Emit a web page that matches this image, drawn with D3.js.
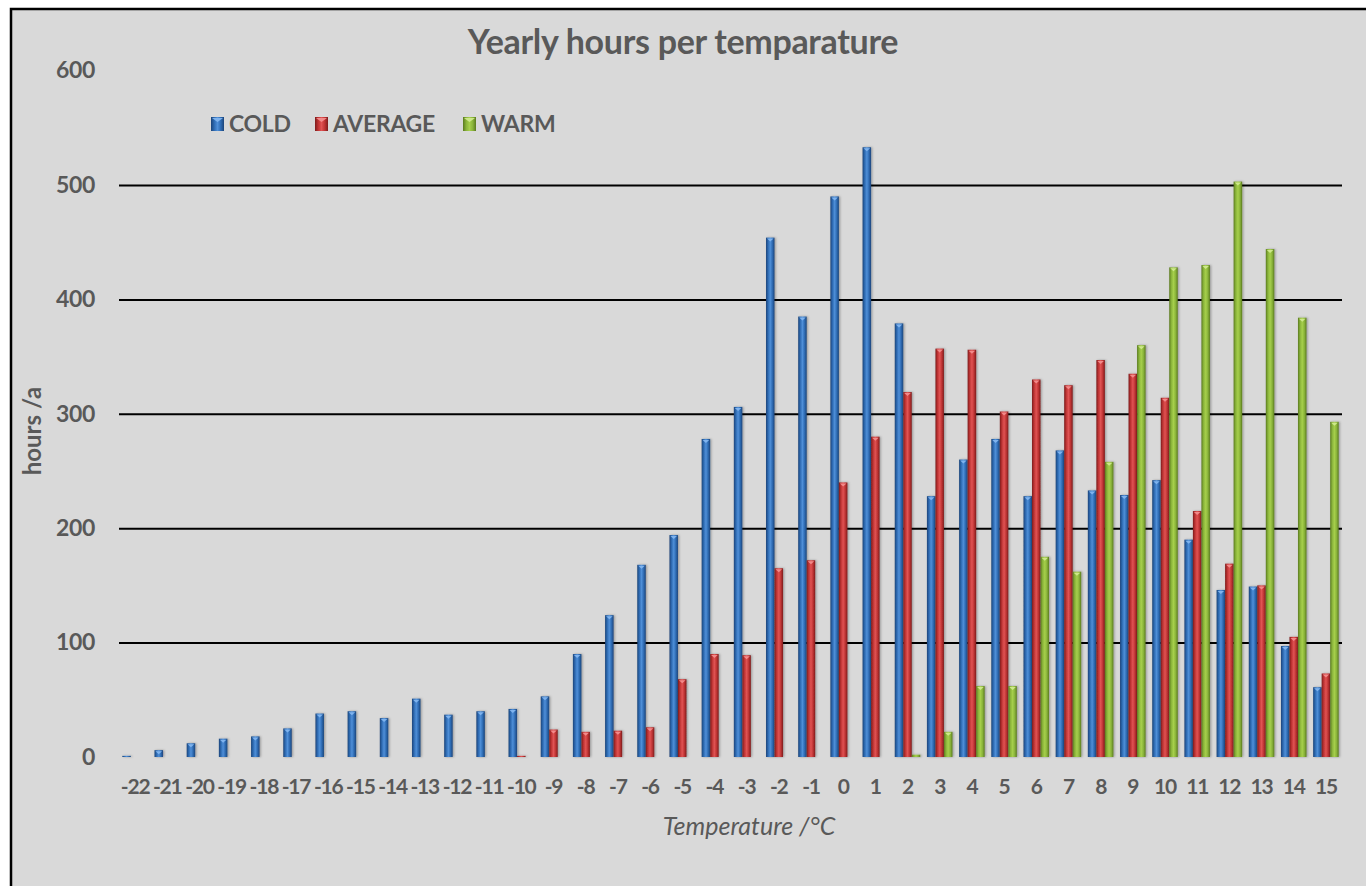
<!DOCTYPE html>
<html>
<head>
<meta charset="utf-8">
<script src="https://cdn.jsdelivr.net/npm/d3@7"></script>
<style>
  html, body { margin: 0; padding: 0; background: #ffffff; }
  svg { display: block; }
  text { font-family: Lato, "Open Sans", "Liberation Sans", sans-serif; }
</style>
</head>
<body>
<svg id="chart" width="1366" height="886"></svg>
<script>
// ---------------- data ----------------
const categories = [-22,-21,-20,-19,-18,-17,-16,-15,-14,-13,-12,-11,-10,-9,-8,-7,-6,-5,-4,-3,-2,-1,0,1,2,3,4,5,6,7,8,9,10,11,12,13,14,15];
const seriesNames = ["COLD", "AVERAGE", "WARM"];
const coldValues = [1,6,12,16,18,25,38,40,34,51,37,40,42,53,90,124,168,194,278,306,454,385,490,533,379,228,260,278,228,268,233,229,242,190,146,149,97,61];
const averageValues = [0,0,0,0,0,0,0,0,0,0,0,0,1,24,22,23,26,68,90,89,165,172,240,280,319,357,356,302,330,325,347,335,314,215,169,150,105,73];
const warmValues = [0,0,0,0,0,0,0,0,0,0,0,0,0,0,0,0,0,0,0,0,0,0,0,0,2,22,62,62,175,162,258,360,428,430,503,444,384,293];
const yTicks = [0,100,200,300,400,500,600];
const gridTicks = [100,200,300,400,500];
const titleText = "Yearly hours per temparature";
const xTitleText = "Temperature /°C";
const yTitleText = "hours /a";

// ---------------- setup ----------------
const svg = d3.select("#chart");
const textColor = "#595959";

svg.append("rect")
  .attr("x", 11).attr("y", 9)
  .attr("width", 1366).attr("height", 900)
  .attr("fill", "#d9d9d9")
  .attr("stroke", "#000").attr("stroke-width", 2.5);

const plot = { left: 119, right: 1342, top: 70.6, bottom: 757 };

const x0 = d3.scaleBand().domain(categories).range([plot.left, plot.right]).paddingInner(0).paddingOuter(0);
const x1 = d3.scaleBand().domain(seriesNames).range([0, x0.bandwidth()]).paddingInner(0).paddingOuter(0.39);
const y = d3.scaleLinear().domain([0, 600]).range([plot.bottom, plot.top]);

const colors = {
  COLD:    { dark: "#1c4479", mid: "#2e6bb3", light: "#4f8fd8", cap: "#7fb3ee" },
  AVERAGE: { dark: "#7c1c1c", mid: "#bf3434", light: "#e05353", cap: "#f28a8a" },
  WARM:    { dark: "#5a7a1f", mid: "#8ab43a", light: "#a6cf4c", cap: "#cde88a" }
};

const defs = svg.append("defs");
seriesNames.forEach(name => {
  const c = colors[name];
  const g = defs.append("linearGradient").attr("id", "grad-" + name)
    .attr("x1", "0%").attr("x2", "100%").attr("y1", "0%").attr("y2", "0%");
  g.append("stop").attr("offset", "0%").attr("stop-color", c.dark);
  g.append("stop").attr("offset", "25%").attr("stop-color", c.mid);
  g.append("stop").attr("offset", "50%").attr("stop-color", c.light);
  g.append("stop").attr("offset", "75%").attr("stop-color", c.mid);
  g.append("stop").attr("offset", "100%").attr("stop-color", c.dark);
});
const shadow = defs.append("filter").attr("id", "shadow").attr("x", "-50%").attr("y", "-5%").attr("width", "200%").attr("height", "110%");
shadow.append("feDropShadow").attr("dx", 1.2).attr("dy", 0).attr("stdDeviation", 0.8).attr("flood-color", "#000").attr("flood-opacity", 0.3);

// ---------------- gridlines ----------------
svg.append("g")
  .attr("transform", `translate(${plot.left},0)`)
  .call(d3.axisLeft(y).tickValues(gridTicks).tickSize(-(plot.right - plot.left)).tickFormat(""))
  .call(g => g.select(".domain").remove())
  .call(g => g.selectAll("line").attr("stroke", "#000").attr("stroke-width", 2));

// ---------------- bars ----------------
const seriesData = seriesNames.map((name, i) => ({
  name,
  values: [coldValues, averageValues, warmValues][i]
}));

const barsG = svg.append("g");
seriesData.forEach(s => {
  const grp = barsG.append("g").attr("filter", "url(#shadow)");
  const items = categories.map((c, i) => ({ cat: c, v: s.values[i] })).filter(d => d.v > 0);
  grp.selectAll("rect.bar").data(items).join("rect")
    .attr("class", "bar")
    .attr("x", d => x0(d.cat) + x1(s.name))
    .attr("y", d => y(d.v))
    .attr("width", x1.bandwidth())
    .attr("height", d => Math.max(1, y(0) - y(d.v)))
    .attr("fill", `url(#grad-${s.name})`);
  grp.selectAll("path.cap").data(items.filter(d => y(0) - y(d.v) > 4)).join("path")
    .attr("class", "cap")
    .attr("d", d => {
      const bx = x0(d.cat) + x1(s.name), bw = x1.bandwidth(), by = y(d.v);
      return `M${bx + 1},${by + 1}L${bx + bw - 1},${by + 1}L${bx + bw / 2},${by + 4}Z`;
    })
    .attr("fill", colors[s.name].cap);
});

// ---------------- axes labels ----------------
svg.append("g")
  .attr("transform", `translate(95,0)`)
  .call(d3.axisLeft(y).tickValues(yTicks).tickSize(0).tickPadding(0).tickFormat(d3.format("d")))
  .call(g => g.select(".domain").remove())
  .call(g => g.selectAll("text")
    .attr("fill", textColor)
    .style("font-size", "23px").style("font-weight", "bold")
    .style("letter-spacing", "-0.3px")
    .style("font-family", "Lato, 'Open Sans', sans-serif"));

svg.append("g")
  .attr("transform", `translate(0,${plot.bottom})`)
  .call(d3.axisBottom(x0).tickSize(0).tickPadding(22))
  .call(g => g.select(".domain").remove())
  .call(g => g.selectAll("text")
    .attr("fill", textColor)
    .style("font-size", "21px").style("font-weight", "bold")
    .style("letter-spacing", "-1.2px")
    .style("font-family", "Lato, 'Open Sans', sans-serif"));

// ---------------- titles ----------------
svg.append("text")
  .attr("x", 683).attr("y", 54)
  .attr("text-anchor", "middle")
  .attr("fill", textColor)
  .style("font-size", "34px").style("font-weight", "bold")
  .style("letter-spacing", "-0.3px")
  .text(titleText);

svg.append("text")
  .attr("x", 749).attr("y", 835)
  .attr("text-anchor", "middle")
  .attr("fill", textColor)
  .style("font-size", "25px").style("font-style", "italic")
  .text(xTitleText);

svg.append("text")
  .attr("transform", "translate(41,431) rotate(-90)")
  .attr("text-anchor", "middle")
  .attr("fill", textColor)
  .style("font-size", "24px").style("font-weight", "bold")
  .text(yTitleText);

// ---------------- legend ----------------
const legendX = [211, 315, 463];
const legend = svg.append("g");
seriesNames.forEach((name, i) => {
  const lg = legend.append("g").attr("transform", `translate(${legendX[i]},117)`);
  lg.append("rect").attr("width", 13).attr("height", 14).attr("fill", `url(#grad-${name})`);
  lg.append("path").attr("d", "M1,1L12,1L6.5,5Z").attr("fill", colors[name].cap);
  lg.append("text").attr("x", 18).attr("y", 15)
    .attr("fill", textColor)
    .style("font-size", "23px").style("font-weight", "bold")
    .style("letter-spacing", "-0.3px")
    .text(name);
});
</script>
</body>
</html>
